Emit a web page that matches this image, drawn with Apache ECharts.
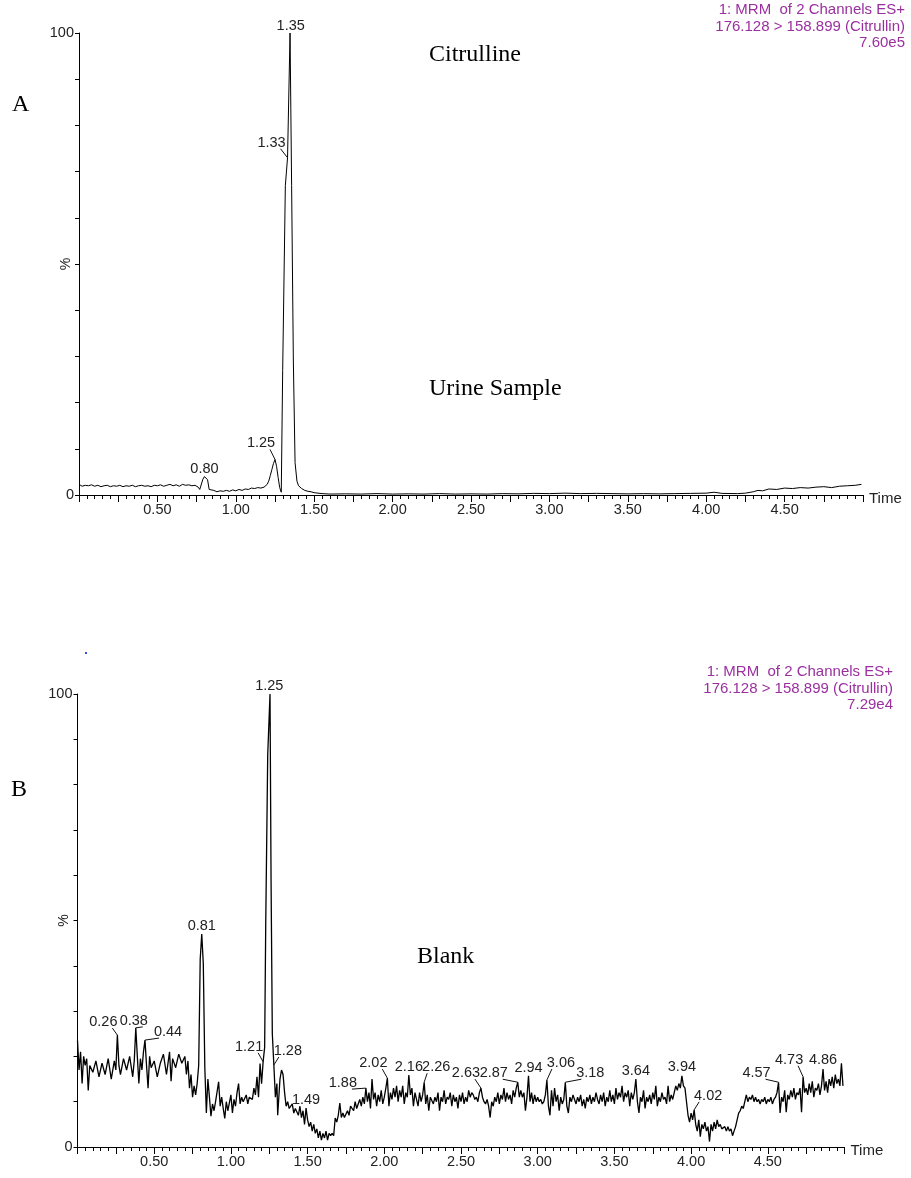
<!DOCTYPE html>
<html><head><meta charset="utf-8">
<script src="https://cdn.jsdelivr.net/npm/echarts@6/dist/echarts.min.js"></script>
<style>html,body{margin:0;padding:0;background:#fff}#c{width:911px;height:1178px}</style>
</head><body><div id="c"></div>
<script>
// ---------- DATA ----------
// Panel A (Urine sample) trace: [time (min), intensity (%)]
const traceA = [
[0.00,2.3],[0.02,1.9],[0.04,2.1],[0.06,2.0],[0.08,2.2],[0.10,1.9],[0.12,2.1],[0.14,1.8],[0.16,2.0],[0.18,2.1],
[0.20,1.8],[0.22,2.0],[0.24,1.9],[0.26,2.1],[0.28,1.8],[0.30,2.0],[0.32,1.9],[0.34,2.1],[0.36,1.8],[0.38,2.0],
[0.40,2.1],[0.42,1.9],[0.44,2.0],[0.46,1.8],[0.48,2.1],[0.50,2.0],[0.52,2.2],[0.54,1.9],[0.56,2.1],[0.58,2.3],
[0.60,2.0],[0.62,2.2],[0.64,1.9],[0.66,2.3],[0.68,2.1],[0.70,2.2],[0.72,2.0],[0.74,2.1],[0.76,1.7],[0.77,1.2],
[0.78,1.4],[0.79,3.4],[0.80,4.0],[0.81,3.8],[0.82,3.3],[0.83,1.2],[0.84,0.8],[0.86,1.0],[0.88,0.7],[0.90,0.9],
[0.92,0.8],[0.94,1.0],[0.96,0.8],[0.98,1.1],[1.00,0.9],[1.02,1.2],[1.04,1.0],[1.06,1.3],[1.08,1.2],[1.10,1.5],
[1.12,1.4],[1.14,1.6],[1.16,1.5],[1.18,1.7],[1.20,2.3],[1.21,3.0],[1.22,4.2],[1.23,5.5],[1.24,6.8],[1.25,7.7],
[1.26,6.2],[1.27,3.8],[1.28,1.6],[1.29,0.6],[1.299,27],[1.316,67],[1.33,73],[1.346,100],[1.356,67],[1.367,29],
[1.378,7],[1.39,3.0],[1.40,2.0],[1.42,1.4],[1.44,1.0],[1.46,0.8],[1.48,0.7],[1.50,0.5],[1.55,0.3],[1.60,0.2],
[1.70,0.25],[1.80,0.2],[1.90,0.3],[2.00,0.2],[2.10,0.25],[2.20,0.2],[2.30,0.3],[2.40,0.2],[2.50,0.25],[2.60,0.2],
[2.70,0.3],[2.80,0.25],[2.90,0.35],[3.00,0.3],[3.10,0.4],[3.20,0.3],[3.30,0.35],[3.40,0.3],[3.50,0.25],[3.60,0.3],
[3.70,0.25],[3.80,0.3],[3.90,0.35],[4.00,0.4],[4.05,0.6],[4.10,0.35],[4.20,0.3],[4.25,0.4],[4.30,0.7],[4.33,1.0],
[4.36,0.9],[4.40,1.3],[4.45,1.2],[4.50,1.5],[4.55,1.4],[4.60,1.6],[4.65,1.5],[4.70,1.7],[4.75,1.8],[4.80,1.6],
[4.85,1.9],[4.90,2.0],[4.95,2.1],[4.99,2.3]
];

// Panel B (Blank) trace: [time (min), intensity (%)]
const traceB = [
[0.00,23.5],[0.01,17],[0.02,21],[0.03,14],[0.04,20],[0.05,18],[0.06,19.5],[0.07,12.5],[0.08,18],[0.10,16.5],
[0.12,19],[0.14,15.5],[0.16,18.5],[0.18,16],[0.20,19.5],[0.22,15],[0.24,19],[0.25,17],[0.26,24.7],[0.27,18],
[0.28,16],[0.30,19.5],[0.32,17],[0.34,20],[0.36,15.5],[0.37,19],[0.38,26.3],[0.39,20],[0.40,14],[0.41,19.5],
[0.42,17],[0.43,21],[0.44,23.6],[0.45,18],[0.46,13],[0.47,20],[0.48,17.5],[0.50,19],[0.52,15.5],[0.54,18.5],
[0.56,20.5],[0.58,16],[0.60,21],[0.61,14.5],[0.62,19.5],[0.64,17.5],[0.66,20.5],[0.68,18.5],[0.70,20],[0.71,16],
[0.72,19],[0.73,13],[0.74,16],[0.75,11],[0.76,13.5],[0.77,11.5],[0.78,14],[0.79,18],[0.80,41.5],[0.81,47],
[0.82,40.5],[0.83,17.5],[0.84,7.5],[0.85,15],[0.86,11],[0.87,6.8],[0.88,9.5],[0.89,8],[0.90,10],[0.92,14.4],
[0.93,9],[0.94,11],[0.95,8.5],[0.96,6.3],[0.97,10],[0.98,8],[1.00,11.5],[1.01,7.5],[1.02,10.5],[1.03,9],
[1.04,12],[1.05,14],[1.06,9.5],[1.07,11],[1.08,10],[1.10,11.5],[1.11,9.5],[1.12,11],[1.14,10.5],[1.15,13],
[1.16,11.5],[1.17,15.5],[1.18,11],[1.19,18.4],[1.20,14],[1.21,18.8],[1.22,22],[1.227,49],[1.24,86.5],[1.255,100],
[1.262,58],[1.27,25],[1.28,18.1],[1.29,11],[1.30,14],[1.305,7],[1.32,15],[1.33,17],[1.34,16],[1.35,12],
[1.36,9],[1.37,10],[1.38,8.5],[1.40,9.5],[1.41,7.5],[1.42,8.5],[1.44,7],[1.45,9],[1.46,6.5],[1.47,8],
[1.48,5],[1.49,8.6],[1.50,6],[1.51,4.5],[1.52,5.5],[1.53,3.5],[1.54,5],[1.55,3],[1.56,4],[1.57,2],
[1.58,3.5],[1.59,1.5],[1.60,3],[1.61,2],[1.62,3.5],[1.63,1.5],[1.64,3],[1.65,2.5],[1.66,3],[1.67,2.5],
[1.68,6.4],[1.69,5.5],[1.70,7],[1.71,9.7],[1.72,6.5],[1.73,7.5],[1.74,6.5],[1.76,8],[1.77,7],[1.78,9],
[1.80,8],[1.81,10],[1.82,8.5],[1.84,10.5],[1.85,9],[1.86,11],[1.87,9.5],[1.88,13],[1.89,10],[1.90,12],
[1.91,8.5],[1.92,15],[1.93,10.5],[1.94,12],[1.95,9],[1.96,11.5],[1.97,10],[1.98,12.5],[1.99,9.5],[2.00,11],
[2.01,13],[2.02,15.2],[2.03,9],[2.04,12],[2.05,10.5],[2.06,13],[2.07,11],[2.08,13.5],[2.09,10],[2.10,12.5],
[2.11,11],[2.12,13.5],[2.13,9.5],[2.14,12],[2.15,11],[2.16,15.9],[2.17,11.5],[2.18,13],[2.19,9],[2.20,12],
[2.21,10.5],[2.22,9],[2.23,12],[2.24,10],[2.25,11.5],[2.26,14.3],[2.27,9.5],[2.28,11.5],[2.29,8],[2.30,11],
[2.32,9.5],[2.33,11],[2.34,10],[2.35,12],[2.36,8],[2.37,11],[2.38,10],[2.39,12.5],[2.40,9.5],[2.41,11],
[2.42,10.5],[2.43,12],[2.44,9],[2.45,11.5],[2.46,10],[2.47,11],[2.48,8.5],[2.49,11.5],[2.50,10],[2.51,12],
[2.52,9.5],[2.53,11],[2.54,10],[2.55,12.5],[2.56,11],[2.57,12],[2.58,11.5],[2.59,10.5],[2.60,11],[2.61,10],
[2.62,12],[2.63,13],[2.64,11],[2.65,10],[2.66,9.5],[2.67,10.5],[2.68,9],[2.69,6.5],[2.70,10],[2.71,9],
[2.72,11],[2.73,10],[2.74,12],[2.75,9.5],[2.76,11.5],[2.77,10.5],[2.78,13],[2.79,10],[2.80,12],[2.81,10.5],
[2.82,11.5],[2.83,9.5],[2.84,12.5],[2.85,11],[2.86,13],[2.87,14.3],[2.88,11],[2.89,12.5],[2.90,11],[2.91,12],
[2.92,8],[2.93,11],[2.94,15.7],[2.95,10],[2.96,12],[2.97,9.5],[2.98,11.5],[2.99,10],[3.00,11],[3.01,10],
[3.02,10.5],[3.03,9.5],[3.04,10],[3.05,11.5],[3.06,14.8],[3.07,9],[3.08,7],[3.09,12.5],[3.10,9],[3.11,13],
[3.12,10],[3.13,11.5],[3.14,8],[3.15,11],[3.16,9.5],[3.17,10.5],[3.18,14.3],[3.19,9],[3.20,7.5],[3.21,11],
[3.22,10],[3.23,11.5],[3.24,10.5],[3.25,9.5],[3.26,11],[3.27,10],[3.28,11.5],[3.29,9],[3.30,10.5],[3.31,8.5],
[3.32,11],[3.33,10],[3.34,11.5],[3.35,9.5],[3.36,11],[3.37,10],[3.38,12],[3.39,10.5],[3.40,9.5],[3.41,11.5],
[3.42,10],[3.43,12],[3.44,9],[3.45,11],[3.46,10],[3.47,12.5],[3.48,10],[3.49,11.5],[3.50,9.5],[3.51,13],
[3.52,10.5],[3.53,12],[3.54,11],[3.55,13.5],[3.56,10],[3.57,12],[3.58,11],[3.59,12.5],[3.60,9],[3.61,12],
[3.62,10.5],[3.63,12],[3.64,15],[3.65,10],[3.66,7.5],[3.67,11],[3.68,10],[3.69,12.5],[3.70,8.5],[3.71,11],
[3.72,10],[3.73,11.5],[3.74,9.5],[3.75,12],[3.76,10.5],[3.77,13.5],[3.78,9],[3.79,11],[3.80,10],[3.81,12],
[3.82,10.5],[3.83,11],[3.84,9.5],[3.85,13.5],[3.86,10],[3.87,11.5],[3.88,10.5],[3.89,12],[3.90,13.5],[3.91,12.5],
[3.92,14],[3.93,13],[3.94,15.7],[3.95,13.5],[3.96,13],[3.97,10],[3.98,7],[3.99,5.5],[4.00,7.5],[4.01,6],
[4.02,8.2],[4.03,5],[4.04,3.5],[4.05,6],[4.06,2.3],[4.07,5],[4.08,4],[4.09,5.5],[4.10,3.5],[4.11,4.5],
[4.12,1.2],[4.13,5],[4.14,3.5],[4.15,5.5],[4.16,4],[4.17,6],[4.18,4.5],[4.19,5],[4.20,4],[4.22,4.5],
[4.23,3.5],[4.24,4.5],[4.25,3.5],[4.26,4],[4.27,2.5],[4.28,3.5],[4.29,4.5],[4.30,6],[4.31,7.5],[4.32,8],
[4.33,9],[4.34,8.5],[4.35,10],[4.36,11.5],[4.37,10],[4.38,11],[4.39,10.5],[4.40,11.5],[4.41,10],[4.42,11],
[4.43,10],[4.44,10.5],[4.45,9.5],[4.46,10.5],[4.47,10],[4.48,11],[4.49,9.5],[4.50,10.5],[4.51,10],[4.52,11],
[4.53,9.5],[4.54,10.5],[4.55,11],[4.56,12],[4.57,14.3],[4.58,7.5],[4.59,11],[4.60,10],[4.61,12.5],[4.62,7.7],
[4.63,11.5],[4.64,10.5],[4.65,12.5],[4.66,11],[4.67,13],[4.68,10.5],[4.69,12],[4.70,11.5],[4.71,13],[4.72,7.7],
[4.73,15.5],[4.74,12],[4.75,13],[4.76,11.5],[4.77,14],[4.78,12],[4.79,14.5],[4.80,11],[4.81,13],[4.82,12.5],
[4.83,14],[4.84,11.5],[4.85,13.5],[4.86,17.2],[4.87,12.5],[4.88,14.5],[4.89,12],[4.90,15],[4.91,13.5],[4.92,15.5],
[4.93,13],[4.94,16],[4.95,14],[4.96,15],[4.97,13.5],[4.98,18.5],[4.99,13.5]
];

// Peak annotations (retention time, apex intensity %)
const peakTimesA  = [0.80, 1.25, 1.33, 1.35];
const peakValuesA = [4.0, 7.7, 73, 100];
const peakTimesB  = [0.26, 0.38, 0.44, 0.81, 1.21, 1.25, 1.28, 1.49, 1.88, 2.02, 2.16, 2.26,
                     2.63, 2.87, 2.94, 3.06, 3.18, 3.64, 3.94, 4.02, 4.57, 4.73, 4.86];
const peakValuesB = [24.7, 26.3, 23.6, 47, 18.8, 100, 18.1, 8.6, 13, 15.2, 15.9, 14.3,
                     13, 14.3, 15.7, 14.8, 14.3, 15, 15.7, 8.2, 14.3, 15.5, 17.2];

// Axis tick labels
const xTickLabels = ['0.50','1.00','1.50','2.00','2.50','3.00','3.50','4.00','4.50'];
const yTickValues = [0, 100];
const yTickLabels = ['0', '100'];

// Header texts
const headerA = ['1: MRM  of 2 Channels ES+', '176.128 > 158.899 (Citrullin)', '7.60e5'];
const headerB = ['1: MRM  of 2 Channels ES+', '176.128 > 158.899 (Citrullin)', '7.29e4'];

// ---------- LAYOUT / STYLE (pixel offsets of peak labels from apex) ----------
const labelOffsetA = [[0,-8],[-14,-16],[-16,-15],[0,-7]];
const labelOffsetB = [[-14,-13],[-2,-7],[23,-8],[0,-8],[-14,-15],[0,-8],[14,-14],[0,-8],[-23,-5],[-14,-15],[0,-8],[12,-15],
                      [-15,-15],[-24,-9],[0,-8],[14,-17],[25,-9],[0,-8],[0,-9],[14,-14],[-22,-9],[-14,-17],[0,-9]];

const SANS = '"Liberation Sans", Arial, sans-serif';
const SERIF = '"Liberation Serif", "Times New Roman", serif';
const TXT = '#222';
const HDR = '#9a2f9f';

const chart = echarts.init(document.getElementById('c'), null, {renderer:'canvas'});

function xAxisCfg(g){
  return {
    type:'value', gridIndex:g, min:0, max:5, interval:0.25,
    axisLine:{show:true, onZero:false, lineStyle:{color:'#000', width:1}},
    axisTick:{show:true, length:7, lineStyle:{color:'#000', width:1}},
    minorTick:{show:true, splitNumber:5, length:4, lineStyle:{color:'#000', width:1}},
    splitLine:{show:false}, minorSplitLine:{show:false},
    axisLabel:{margin:7, fontSize:14.5, fontFamily:SANS, color:TXT, showMinLabel:true, showMaxLabel:true,
      formatter:v => xTickLabels.indexOf(v.toFixed(2)) >= 0 ? v.toFixed(2) : ''},
    name:'Time', nameLocation:'end', nameGap:6,
    nameTextStyle:{fontSize:15, fontFamily:SANS, color:TXT, verticalAlign:'top', lineHeight:8}
  };
}
function yAxisCfg(g){
  return {
    type:'value', gridIndex:g, min:0, max:100, interval:10,
    axisLine:{show:true, onZero:false, lineStyle:{color:'#000', width:1}},
    axisTick:{show:true, length:4, lineStyle:{color:'#000', width:1}},
    splitLine:{show:false},
    axisLabel:{margin:5, fontSize:14.5, fontFamily:SANS, color:TXT,
      formatter:v => { const k = yTickValues.indexOf(v); return k >= 0 ? yTickLabels[k] : ''; }},
    name:'%', nameLocation:'middle', nameRotate:90, nameGap:6, nameMoveOverlap:false,
    nameTextStyle:{fontSize:14, fontFamily:SANS, color:TXT}
  };
}
function traceSeries(g, data, w){
  return {type:'line', xAxisIndex:g, yAxisIndex:g, data:data, showSymbol:false, symbol:'none',
    lineStyle:{color:'#000', width:w}, animation:false, silent:true, clip:false};
}
function peakSeries(g, times, values, offsets){
  return {
    type:'custom', xAxisIndex:g, yAxisIndex:g, silent:true, animation:false, z:5,
    encode:{x:0, y:1},
    data: times.map((t,i) => [t, values[i], i]),
    renderItem:(params, api) => {
      const i = api.value(2);
      const p = api.coord([api.value(0), api.value(1)]);
      const dx = offsets[i][0], dy = offsets[i][1];
      const cx = p[0] + dx, cy = p[1] + dy;
      const children = [{type:'text', style:{text: times[i].toFixed(2), x:cx, y:cy,
        align:'center', verticalAlign:'middle', fontSize:14.5, fontFamily:SANS, fill:TXT}}];
      if (dx !== 0) {
        children.push({type:'line', shape:{x1:p[0], y1:p[1], x2:cx + (dx < 0 ? 9 : -9), y2:cy + 6},
          style:{stroke:'#111', lineWidth:1}});
      }
      return {type:'group', children};
    }
  };
}

const graphics = [];
function addText(text, x, y, opts){
  graphics.push({type:'text', x:x, y:y, silent:true, style:Object.assign({text:text, fill:'#000'}, opts)});
}
addText('A', 12, 105, {font:'24px ' + SERIF, textVerticalAlign:'middle'});
addText('Citrulline', 429, 55, {font:'24px ' + SERIF, textVerticalAlign:'middle'});
addText('Urine Sample', 429, 389, {font:'24px ' + SERIF, textVerticalAlign:'middle'});
addText('B', 11, 790, {font:'24px ' + SERIF, textVerticalAlign:'middle'});
addText('Blank', 417, 957, {font:'24px ' + SERIF, textVerticalAlign:'middle'});
const hdrYA = [9.5, 26.5, 43], hdrYB = [672, 689, 705];
headerA.forEach((s,i) => addText(s, 905, hdrYA[i], {font:'15px ' + SANS, fill:HDR, textAlign:'right', textVerticalAlign:'middle'}));
headerB.forEach((s,i) => addText(s, 893, hdrYB[i], {font:'15px ' + SANS, fill:HDR, textAlign:'right', textVerticalAlign:'middle'}));
graphics.push({type:'rect', silent:true, shape:{x:85, y:652, width:2, height:2}, style:{fill:'#3050e0'}});

chart.setOption({
  animation:false,
  backgroundColor:'#fff',
  grid:[
    {left:79, top:33, width:784, height:462, containLabel:false},
    {left:77.5, top:694, width:767, height:453, containLabel:false}
  ],
  xAxis:[xAxisCfg(0), xAxisCfg(1)],
  yAxis:[yAxisCfg(0), yAxisCfg(1)],
  series:[
    traceSeries(0, traceA, 1),
    traceSeries(1, traceB, 1.3),
    peakSeries(0, peakTimesA, peakValuesA, labelOffsetA),
    peakSeries(1, peakTimesB, peakValuesB, labelOffsetB)
  ],
  graphic: graphics
});
</script>
</body></html>
